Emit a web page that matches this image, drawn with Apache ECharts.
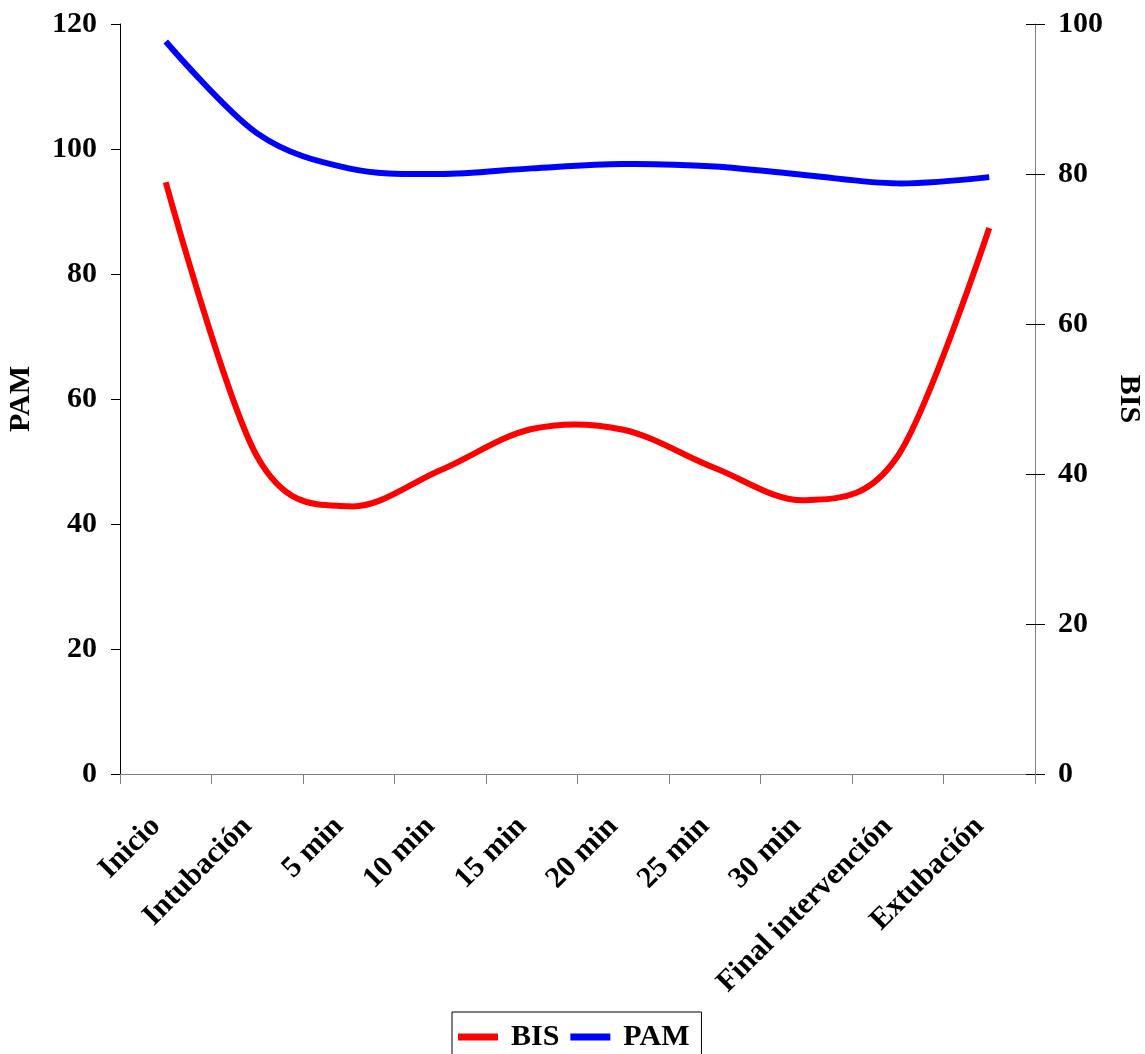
<!DOCTYPE html>
<html>
<head>
<meta charset="utf-8">
<script src="https://cdn.jsdelivr.net/npm/echarts@6/dist/echarts.min.js"></script>
<style>
  html, body { margin: 0; padding: 0; background: #ffffff; }
  #chart { width: 1145px; height: 1054px; }
</style>
</head>
<body>
<div id="chart"></div>
<script>
// Time points of the anaesthetic procedure
const categories = ['Inicio', 'Intubación', '5 min', '10 min', '15 min', '20 min', '25 min', '30 min', 'Final intervención', 'Extubación'];

// Mean arterial pressure (left axis)
const pamValues = [117.2, 102.5, 96.9, 96.0, 96.9, 97.6, 97.2, 95.8, 94.5, 95.5];

// Bispectral index (right axis)
const bisValues = [78.9, 42.3, 35.7, 40.5, 46.0, 45.9, 40.8, 36.5, 42.4, 72.8];

// Axis ticks
const pamAxis = { min: 0, max: 120, interval: 20 };
const bisAxis = { min: 0, max: 100, interval: 20 };

const FONT = '"Liberation Serif", "Times New Roman", serif';
const textStyle = { fontFamily: FONT, fontWeight: 'bold', fontSize: 30, color: '#000' };

// Smoothed curve through the points (cubic Bezier, Catmull-Rom tangents)
function smoothPath(pts) {
  let d = 'M' + pts[0][0] + ',' + pts[0][1];
  for (let i = 0; i < pts.length - 1; i++) {
    const p0 = pts[i - 1], p1 = pts[i], p2 = pts[i + 1], p3 = pts[i + 2];
    const c1 = p0 ? [p1[0] + (p2[0] - p0[0]) / 6, p1[1] + (p2[1] - p0[1]) / 6] : p1;
    const c2 = p3 ? [p2[0] - (p3[0] - p1[0]) / 6, p2[1] - (p3[1] - p1[1]) / 6] : p2;
    d += ' C' + c1[0] + ',' + c1[1] + ' ' + c2[0] + ',' + c2[1] + ' ' + p2[0] + ',' + p2[1];
  }
  return d;
}

function curveSeries(name, values, axisIndex, color, z) {
  return {
    name: name,
    type: 'custom',
    coordinateSystem: 'cartesian2d',
    yAxisIndex: axisIndex,
    data: values.map((v, i) => [i, v]),
    encode: { x: 0, y: 1 },
    itemStyle: { color: color },
    z: z,
    renderItem: function (params, api) {
      if (params.dataIndex !== 0) return null;
      const pts = values.map((v, i) => api.coord([i, v]));
      return {
        type: 'path',
        shape: { pathData: smoothPath(pts) },
        style: { fill: 'none', stroke: color, lineWidth: 6, lineCap: 'butt', lineJoin: 'round' }
      };
    }
  };
}

const chart = echarts.init(document.getElementById('chart'), null, { renderer: 'canvas' });

chart.setOption({
  backgroundColor: '#ffffff',
  animation: false,
  textStyle: { fontFamily: FONT },
  grid: { left: 120, right: 110, top: 24, bottom: 280, containLabel: false, outerBoundsMode: 'none' },
  legend: {
    data: ['BIS', 'PAM'],
    left: 452,
    top: 1012,
    orient: 'horizontal',
    icon: 'rect',
    itemWidth: 40,
    itemHeight: 7,
    itemGap: 11,
    padding: [10, 12, 14, 6],
    borderColor: '#000',
    borderWidth: 1,
    textStyle: Object.assign({}, textStyle, { padding: [0, 0, 0, 8] })
  },
  xAxis: {
    type: 'category',
    data: categories,
    boundaryGap: true,
    axisLine: { lineStyle: { color: '#808080', width: 1 } },
    axisTick: { show: true, length: 10, alignWithLabel: false, lineStyle: { color: '#808080' } },
    axisLabel: Object.assign({ interval: 0, rotate: 45, margin: 38, padding: [0, 14, 0, 0] }, textStyle),
    splitLine: { show: false }
  },
  yAxis: [
    {
      type: 'value',
      name: 'PAM',
      nameLocation: 'middle',
      nameGap: 84,
      nameRotate: 90,
      nameTextStyle: textStyle,
      min: pamAxis.min, max: pamAxis.max, interval: pamAxis.interval,
      position: 'left',
      axisLine: { show: true, lineStyle: { color: '#000', width: 1 } },
      axisTick: { show: true, length: 9, lineStyle: { color: '#000' } },
      axisLabel: Object.assign({ margin: 23 }, textStyle),
      splitLine: { show: false }
    },
    {
      type: 'value',
      name: 'BIS',
      nameLocation: 'middle',
      nameGap: 78,
      nameRotate: -90,
      nameTextStyle: textStyle,
      min: bisAxis.min, max: bisAxis.max, interval: bisAxis.interval,
      position: 'right',
      axisLine: { show: true, lineStyle: { color: '#808080', width: 1 } },
      axisTick: { show: true, length: 10, lineStyle: { color: '#000' } },
      axisLabel: Object.assign({ margin: 23 }, textStyle),
      splitLine: { show: false }
    },
    {
      // inner half of the crossing ticks on the right axis
      type: 'value',
      min: bisAxis.min, max: bisAxis.max, interval: bisAxis.interval,
      position: 'right',
      axisLine: { show: false },
      axisTick: { show: true, inside: true, length: 9, lineStyle: { color: '#000' } },
      axisLabel: { show: false },
      splitLine: { show: false }
    }
  ],
  series: [
    curveSeries('BIS', bisValues, 1, '#ff0000', 3),
    curveSeries('PAM', pamValues, 0, '#0000ff', 2)
  ]
});
</script>
</body>
</html>
